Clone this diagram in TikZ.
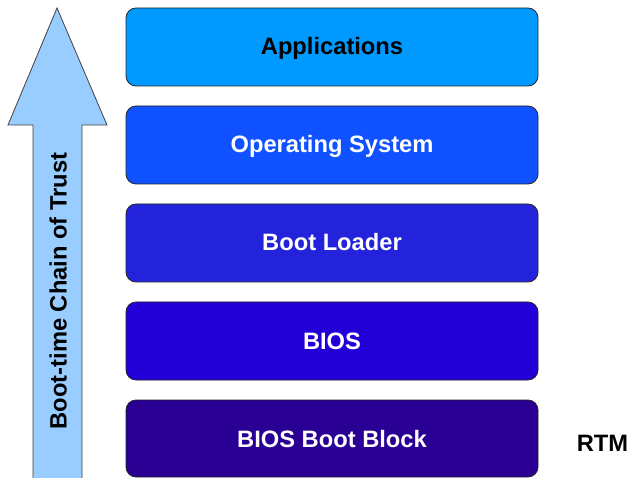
\documentclass[tikz,border=0pt]{standalone}
\usepackage{fontspec}
\setmainfont{Liberation Sans}
\begin{document}
\begin{tikzpicture}[x=1pt,y=-1pt,
  layer/.style={draw=black!85, line width=0.8pt, rounded corners=10pt},
  label/.style={font=\bfseries\fontsize{23.7}{26}\selectfont, anchor=base, inner sep=0pt},
  chain/.style={fill=arrowblue, draw=black!75, line width=0.8pt}]
  \definecolor{appsblue}{RGB}{0,153,255}
  \definecolor{osblue}{RGB}{16,82,255}
  \definecolor{loaderblue}{RGB}{35,35,220}
  \definecolor{biosblue}{RGB}{34,0,215}
  \definecolor{blockblue}{RGB}{42,0,148}
  \definecolor{arrowblue}{RGB}{153,204,255}
  \useasboundingbox (0,0) rectangle (629,478);

  % upward chain-of-trust arrow
  \coordinate (tip) at (57,8);
  \filldraw[chain] (tip) -- (107,125) -- (82,125) -- (82,480) -- (33,480) -- (33,125) -- (8,125) -- cycle;
  \node[label, rotate=90] (trust) at (66.5,291) {Boot-time Chain of Trust};

  % software stack, top to bottom
  \filldraw[layer, fill=appsblue]   (126,8)   rectangle (538,86);
  \filldraw[layer, fill=osblue]     (126,106) rectangle (538,184);
  \filldraw[layer, fill=loaderblue] (126,204) rectangle (538,282);
  \filldraw[layer, fill=biosblue]   (126,302) rectangle (538,380);
  \filldraw[layer, fill=blockblue]  (126,400) rectangle (538,477);

  \node[label, text=black] (apps)   at (332,55)  {Applications};
  \node[label, text=white] (os)     at (332,153) {Operating System};
  \node[label, text=white] (loader) at (332,251) {Boot Loader};
  \node[label, text=white] (bios)   at (332,349) {BIOS};
  \node[label, text=white] (block)  at (332,447) {BIOS Boot Block};

  \node[label, text=black] (rtm) at (602.5,451) {RTM};
\end{tikzpicture}
\end{document}
